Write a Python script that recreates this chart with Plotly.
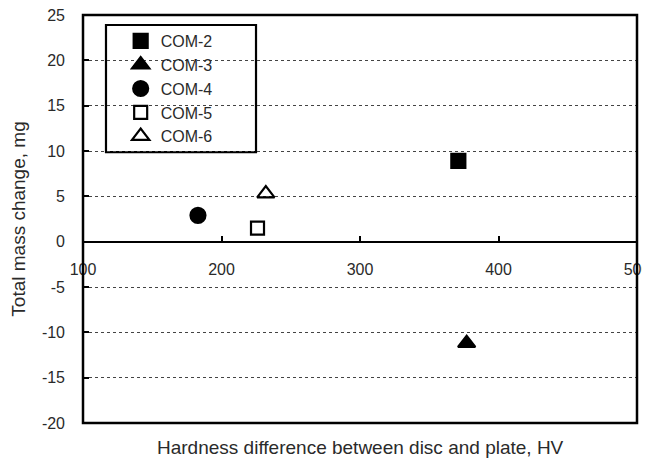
import plotly.graph_objects as go

# ---- data ----
names = ["COM-2", "COM-3", "COM-4", "COM-5", "COM-6"]
hardness_diff = [371, 377, 183, 226, 232]
mass_change = [8.9, -11.2, 2.9, 1.5, 5.3]
symbols = ["square", "triangle-up", "circle", "square-open", "triangle-up-open"]
marker_sizes = [14, 15, 15, 13, 15]

x_ticks = [100, 200, 300, 400, 500]
y_ticks = [-20, -15, -10, -5, 0, 5, 10, 15, 20, 25]

FONT = "Arial, 'Liberation Sans', Helvetica, sans-serif"
TXT = "#2a2a2a"

fig = go.Figure()
for n, xv, yv, s, ms in zip(names, hardness_diff, mass_change, symbols, marker_sizes):
    fig.add_trace(go.Scatter(
        x=[xv], y=[yv], mode="markers", name=n,
        marker=dict(symbol=s, size=ms, color="black",
                    line=dict(color="black", width=2.2)),
    ))

# page body has an 8px margin: figure sized so it ends at the window's edges
fig.update_layout(
    width=642, height=452,
    margin=dict(l=75, r=13, t=7, b=37, autoexpand=False),
    paper_bgcolor="white", plot_bgcolor="white",
    font=dict(family=FONT, color=TXT, size=16),
    showlegend=True,
    legend=dict(x=0.068, y=0.978, xanchor="left", yanchor="top",
                bgcolor="rgba(0,0,0,0)", borderwidth=0,
                font=dict(size=16, color=TXT), itemsizing="trace"),
    xaxis=dict(range=[100, 500], tickvals=x_ticks, ticktext=[str(v) for v in x_ticks],
               showgrid=False, zeroline=False, showline=False, automargin=False,
               anchor="free", position=20 / 45, ticklabeloverflow="allow",
               ticks="inside", ticklen=6, tickwidth=1.5, tickcolor="black",
               ticklabelstandoff=16, tickfont=dict(size=16, color=TXT)),
    yaxis=dict(range=[-20, 25], tickvals=y_ticks, ticktext=[str(v) for v in y_ticks],
               showgrid=True, gridcolor="#444", gridwidth=1, griddash="3px,3px",
               zeroline=True, zerolinecolor="black", zerolinewidth=2,
               showline=False, automargin=False, ticklabeloverflow="allow",
               ticks="inside", ticklen=6, tickwidth=1.5, tickcolor="black",
               ticklabelstandoff=17, tickfont=dict(size=16, color=TXT),
               title=dict(text="Total mass change, mg", font=dict(size=19, color=TXT), standoff=12)),
    shapes=[
        dict(type="rect", xref="paper", yref="paper", x0=0, x1=1, y0=0, y1=1,
             line=dict(color="black", width=2.5), layer="above"),
        dict(type="rect", xref="paper", yref="paper", x0=0.0415, x1=0.3123, y0=0.664, y1=0.9755,
             line=dict(color="black", width=2.2), fillcolor="white", layer="below"),
    ],
    annotations=[
        dict(text="Hardness difference between disc and plate, HV", xref="paper", yref="paper",
             x=0.5, y=-0.061, xanchor="center", yanchor="middle", showarrow=False,
             font=dict(size=19, color=TXT)),
    ],
)

fig.write_html("out.html")
